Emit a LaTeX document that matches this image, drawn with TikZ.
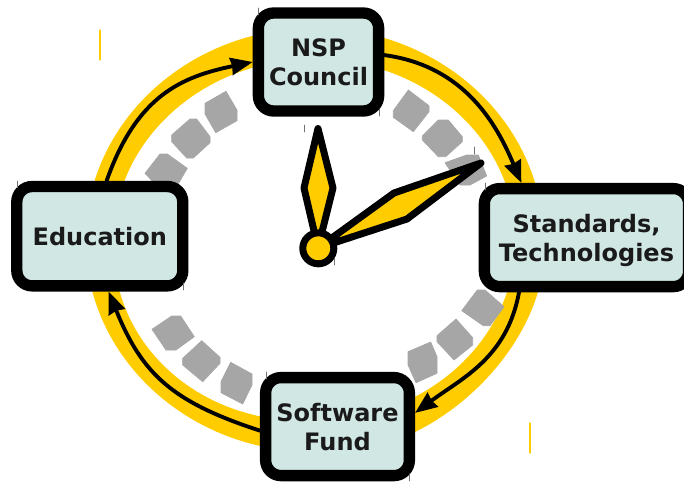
\documentclass[tikz,border=0pt]{standalone}
\usepackage{fontspec}
\setmainfont{DejaVu Sans}
\usetikzlibrary{arrows.meta}

\definecolor{clockyellow}{HTML}{FFCC00}
\definecolor{boxfill}{HTML}{D0E7E4}
\definecolor{blockgray}{HTML}{A6A6A6}
\definecolor{textdark}{HTML}{1A1A1A}

\tikzset{
  stage/.style={draw=black, line width=8.5pt, fill=boxfill, rounded corners=11.5pt,
    inner sep=0pt, align=center, text=textdark, minimum height=73.5pt,
    font=\fontsize{18}{21.75}\selectfont\bfseries},
  flow/.style={draw=black, line width=2.9pt, -{Stealth[length=16.5pt,width=13pt,inset=1pt]}},
  hand/.style={draw=black, fill=clockyellow, line width=5.25pt, line join=round},
  block/.style={fill=blockgray, draw=blockgray, line width=.5pt, line join=round},
  tick/.style={draw=black!55, line width=.5pt},
  yellowtick/.style={draw=clockyellow, line width=.9pt}
}

\begin{document}
\begin{tikzpicture}[x=.75pt, y=-.75pt, line cap=round]

\useasboundingbox (0,0) rectangle (684,482);

% Yellow ring, outer edge then inner edge
\fill[clockyellow, even odd rule]
  (543.5,240) .. controls (543.5,123) and (441,28) .. (314.5,28)
  .. controls (188,28) and (85.5,123) .. (85.5,240)
  .. controls (85.5,357) and (188,452) .. (314.5,452)
  -- (415,432) .. controls (470,405) and (520,352) .. (538,292) -- cycle
  (515.5,240) .. controls (515.5,140) and (425.5,59) .. (314.5,59)
  .. controls (203.5,59) and (113.5,140) .. (113.5,240)
  .. controls (110,344) and (199,425) .. (314.5,421)
  .. controls (425.5,421) and (515.5,340) .. (515.5,240) -- cycle;

% Gray blocks, upper left
\path[block] (226,91.3) -- (237,110) -- (237,120.7) -- (215.7,132.7) -- (205,114) -- (205,103.3) -- cycle;
\path[block] (190,119) -- (196.7,119) -- (210,136.7) -- (210,142.7) -- (193.3,158) -- (186.7,158) -- (171.7,141.7) -- (171.7,135) -- cycle;
\path[block] (160,154) -- (167.3,154) -- (187.3,168.3) -- (177,186) -- (157,186) -- (145,173.3) -- cycle;

% Gray blocks, upper right
\path[block] (408.3,90) -- (429,105.7) -- (429,111.7) -- (413.3,131.7) -- (393.3,117.3) -- (393.3,110.7) -- cycle;
\path[block] (438.3,120) -- (448.3,120) -- (462.3,136.7) -- (462.3,141.7) -- (445.7,156.7) -- (438.3,156.7) -- (422.3,140) -- (422.3,136) -- cycle;
\path[block] (445,162.7) -- (466.7,155) -- (478.3,155) -- (486.7,176) -- (470,185) -- (460,185) -- cycle;

% Gray blocks, lower right
\path[block] (477.3,290) -- (485,290) -- (504,306.7) -- (490,325.7) -- (483.3,325.7) -- (461.7,310.7) -- cycle;
\path[block] (456,319) -- (472.7,337.7) -- (472.7,345) -- (454,360) -- (437,341.7) -- (437,335.7) -- cycle;
\path[block] (430.7,342) -- (437,356.7) -- (437,373.3) -- (416,382.7) -- (408,365) -- (408,351.7) -- cycle;

% Gray blocks, lower left
\path[block] (171.7,316) -- (180.7,316) -- (194.3,336.7) -- (176,350) -- (166,350) -- (152,329.3) -- cycle;
\path[block] (201.7,340.7) -- (220,357.3) -- (220,363.3) -- (202.7,381.7) -- (182.7,365) -- (182.7,358.3) -- cycle;
\path[block] (230.7,362.3) -- (252,374) -- (252,385) -- (242.7,404) -- (221,392.7) -- (221,381.7) -- cycle;

% Clock hands
\draw[hand] (318,128.5) -- (333,188) -- (318,248) -- (304,188) -- cycle;
\draw[hand] (481,163) -- (407,219) -- (318,248) -- (394,193) -- cycle;
\node[circle, draw=black, fill=clockyellow, line width=5.25pt, minimum size=23.25pt, inner sep=0pt] (hub) at (318.3,248.3) {};

% Stage boxes
\node[stage, minimum width=90.2pt] (council) at (318.5,62) {NSP\\Council};
\node[stage, minimum width=124.5pt, minimum height=74.5pt] (education) at (99.8,236.2) {Education};
\node[stage, minimum width=153.2pt, text depth=0pt] (standards) at (586.5,237.6) {Standards,\\Technologies};
\node[stage, minimum width=107.8pt] (fund) at (337.5,426.6) {Software\\Fund};

% Arrows round the ring
\draw[flow] (education.83) .. controls (136.7,95.4) and (181.6,76.7) .. (council.west);
\draw[flow] (council.6) .. controls (465,66) and (497,125) .. (standards.140);
\draw[flow] (standards.219) .. controls (507,358) and (462,378) .. (fund.10);
\draw[flow] (fund.183) .. controls (172,402) and (142,374) .. (education.279);

% Hairline marks
\draw[yellowtick] (100,30) -- (100,60);
\draw[yellowtick] (530,423) -- (530,453);
\foreach \x/\y in {258/8, 379/109, 304/125, 334/258, 474/147, 485/183, 17/181, 183/283, 266/372, 409/474}
  \draw[tick] (\x,\y) -- +(0,7);

\end{tikzpicture}
\end{document}
